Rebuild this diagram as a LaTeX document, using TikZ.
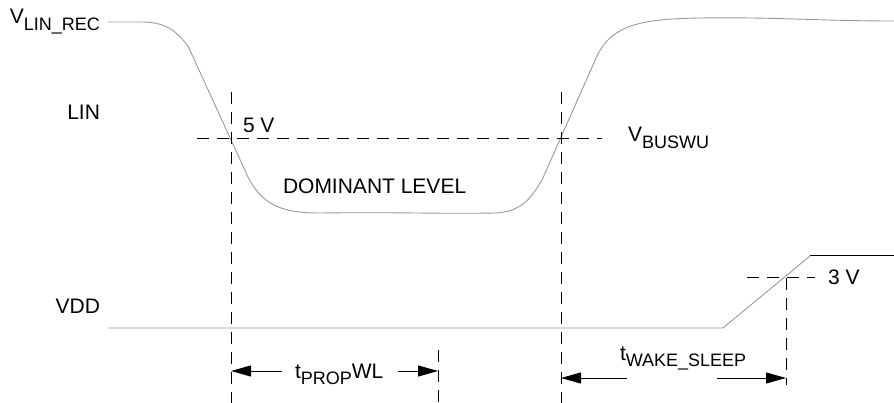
\documentclass[tikz,border=0pt]{standalone}
\usepackage{fontspec}
\setmainfont{Liberation Sans}
\usetikzlibrary{arrows.meta}
\newlength{\du}
\setlength{\du}{10\unitlength}
\newcommand{\labfont}{\fontsize{21}{24}\selectfont}
\newcommand{\lowsub}[1]{\raisebox{-6.5pt}{\fontsize{18}{21}\selectfont #1}}

\begin{document}
\begin{tikzpicture}[even odd rule]
\pgftransformxscale{1.000000}
\pgftransformyscale{-1.000000}
\useasboundingbox (0.000000\du,0.000000\du) rectangle (89.400000\du,40.300000\du);
\definecolor{dialinecolor}{rgb}{0.000000, 0.000000, 0.000000}
\pgfsetstrokecolor{dialinecolor}
\pgfsetstrokeopacity{1.000000}
\definecolor{sigcolor}{rgb}{0.600000, 0.600000, 0.600000}
\pgfsetlinewidth{0.100000\du}
\pgfsetdash{}{0pt}
\pgfsetmiterjoin
\pgfsetbuttcap
% LIN waveform
\draw[color=sigcolor,line width=0.090000\du] (10.800000\du,2.200000\du)--(14.000000\du,2.200000\du)
 .. controls (16.300000\du,2.200000\du) and (17.400000\du,2.800000\du) .. (18.800000\du,4.600000\du)
 --(24.800000\du,17.700000\du)
 .. controls (26.200000\du,20.400000\du) and (28.000000\du,21.300000\du) .. (32.000000\du,21.300000\du)
 .. controls (40.000000\du,21.200000\du) and (44.000000\du,21.400000\du) .. (49.500000\du,21.300000\du)
 .. controls (52.000000\du,21.200000\du) and (53.000000\du,20.000000\du) .. (54.200000\du,18.000000\du)
 --(59.700000\du,5.600000\du)
 .. controls (61.200000\du,2.500000\du) and (64.000000\du,1.900000\du) .. (70.000000\du,1.800000\du)
 .. controls (78.000000\du,1.700000\du) and (82.000000\du,2.100000\du) .. (89.400000\du,2.100000\du);
% VDD waveform
\draw[color=sigcolor,line width=0.090000\du] (10.800000\du,32.800000\du)--(72.300000\du,32.800000\du)--(81.000000\du,25.600000\du);
\draw (81.000000\du,25.600000\du)--(89.400000\du,25.600000\du);
% dashed markers
\coordinate (hbusl) at (19.700000\du,13.900000\du);
\coordinate (hbusr) at (60.200000\du,13.900000\du);
\coordinate (vfallt) at (23.100000\du,9.200000\du);
\coordinate (vfallb) at (23.100000\du,40.300000\du);
\coordinate (vriset) at (56.100000\du,9.200000\du);
\coordinate (vriseb) at (56.100000\du,40.300000\du);
\coordinate (vpropt) at (43.800000\du,35.000000\du);
\coordinate (vpropb) at (43.800000\du,40.300000\du);
\coordinate (vvddt) at (78.600000\du,27.800000\du);
\coordinate (vvddb) at (78.600000\du,38.500000\du);
\coordinate (hvddl) at (74.700000\du,27.800000\du);
\coordinate (hvddr) at (81.500000\du,27.800000\du);
\draw[dash pattern=on 1.200000\du off 0.800000\du] (hbusl)--(hbusr);
\draw[dash pattern=on 1.200000\du off 0.800000\du] (vfallt)--(vfallb);
\draw[dash pattern=on 1.200000\du off 0.800000\du] (vriset)--(vriseb);
\draw[dash pattern=on 1.200000\du off 0.800000\du] (vpropt)--(vpropb);
\draw[dash pattern=on 1.200000\du off 0.800000\du] (vvddt)--(vvddb);
\draw[dash pattern=on 1.200000\du off 0.800000\du] (hvddl)--(hvddr);
% setfont left to latex
\node[anchor=base east,inner sep=0pt,outer sep=0pt,color=dialinecolor] (vlinrec) at (10.000000\du,2.400000\du){\labfont V\lowsub{LIN\_REC}};
\node[anchor=base east,inner sep=0pt,outer sep=0pt,color=dialinecolor] (lin) at (10.000000\du,12.000000\du){\labfont LIN};
\node[anchor=base east,inner sep=0pt,outer sep=0pt,color=dialinecolor] (vdd) at (10.000000\du,31.300000\du){\labfont VDD};
\node[anchor=base west,inner sep=0pt,outer sep=0pt,color=dialinecolor] (fivev) at (24.300000\du,13.300000\du){\labfont 5 V};
\node[anchor=base west,inner sep=0pt,outer sep=0pt,color=dialinecolor] (vbuswu) at (62.800000\du,14.200000\du){\labfont V\lowsub{BUSWU}};
\node[anchor=base west,inner sep=0pt,outer sep=0pt,color=dialinecolor] (domlevel) at (28.300000\du,19.400000\du){\labfont DOMINANT LEVEL};
\node[anchor=base west,inner sep=0pt,outer sep=0pt,color=dialinecolor] (threev) at (82.800000\du,28.500000\du){\labfont 3 V};
\node[anchor=base west,inner sep=0pt,outer sep=0pt,color=dialinecolor] (tprop) at (29.500000\du,37.800000\du){\labfont t\lowsub{PROP}WL};
\node[anchor=base west,inner sep=0pt,outer sep=0pt,color=dialinecolor] (twake) at (62.000000\du,36.000000\du){\labfont t\lowsub{WAKE\_SLEEP}};
% timing arrows
\coordinate (propl) at (28.200000\du,37.100000\du);
\coordinate (propr) at (39.800000\du,37.100000\du);
\coordinate (wakel) at (62.700000\du,37.800000\du);
\coordinate (waker) at (71.700000\du,37.800000\du);
\draw[-{Triangle[length=20pt,width=11pt]}] (propl)--(vfallt |- propl);
\draw[-{Triangle[length=20pt,width=11pt]}] (propr)--(vpropt |- propr);
\draw[-{Triangle[length=20pt,width=11pt]}] (wakel)--(vriset |- wakel);
\draw[-{Triangle[length=20pt,width=11pt]}] (waker)--(vvddt |- waker);
\end{tikzpicture}
\end{document}
